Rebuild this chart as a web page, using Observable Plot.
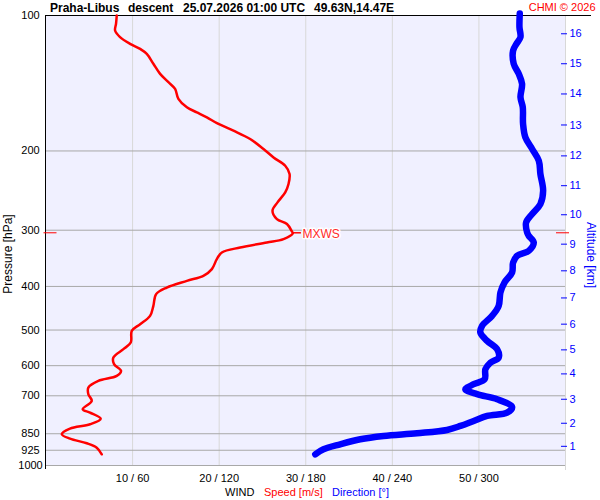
<!DOCTYPE html>
<html><head><meta charset="utf-8">
<script src="https://cdn.jsdelivr.net/npm/d3@7"></script>
<script src="https://cdn.jsdelivr.net/npm/@observablehq/plot@0.6"></script>
<style>body{margin:0;background:#fff}</style>
</head><body><div id="chart"></div>
<script>
// ---- data ----
const pressureTicks = [100, 200, 300, 400, 500, 600, 700, 850, 925, 1000];
const speedTicks = [10, 20, 30, 40, 50];
const altitudeKm = [1, 2, 3, 4, 5, 6, 7, 8, 9, 10, 11, 12, 13, 14, 15, 16];
const altitudePressure = [906.5, 805.6, 712.5, 625.8, 553.4, 485.2, 424.3, 369.3, 322.2, 277.2, 238.9, 205.1, 175.1, 149.4, 128.0, 109.8];

const speedPressure = [100, 104.3, 108.0, 111.7, 115.6, 118.6, 121.7, 128.0, 134.8, 140.7, 145.6, 153.2, 160.0, 164.1, 168.4, 174.2, 180.3, 188.1, 198.0, 206.7, 215.7, 225.0, 236.8, 247.2, 260.2, 271.5, 283.4, 290.7, 301.9, 305.0, 314.0, 319.5, 327.8, 336.3, 347.8, 366.1, 378.9, 388.7, 402.3, 416.1, 441.7, 465.0, 485.2, 502.1, 533.1, 551.4, 575.6, 595.4, 616.2, 632.2, 648.6, 671.2, 694.3, 718.6, 749.9, 763.0, 787.0, 809.8, 828.2, 852.3, 871.7, 892.5, 912.9, 944.3];
const speedValues = [8.17, 8.09, 7.98, 8.55, 9.71, 10.87, 11.64, 12.40, 13.18, 14.14, 14.91, 15.29, 16.27, 17.42, 18.58, 19.92, 21.65, 23.58, 25.12, 26.28, 27.63, 28.13, 28.01, 27.63, 26.74, 26.16, 26.67, 27.83, 28.40, 28.50, 27.43, 25.51, 22.43, 20.31, 19.73, 19.16, 18.18, 16.27, 13.95, 12.72, 12.40, 12.02, 10.87, 9.91, 9.79, 8.94, 7.78, 7.86, 8.67, 8.17, 6.05, 4.89, 4.89, 5.28, 4.24, 5.09, 6.32, 5.09, 2.77, 1.82, 2.77, 4.71, 5.86, 6.44];

const dirPressure = [99, 106.2, 111.7, 115.6, 119.6, 128.0, 134.8, 141.9, 151.9, 160.0, 174.2, 186.6, 198.0, 210.2, 225.0, 245.1, 262.5, 276.1, 288.4, 303.4, 308.6, 319.5, 333.4, 342.0, 353.9, 372.5, 392.1, 412.7, 441.7, 465.0, 489.4, 506.5, 528.5, 551.4, 575.6, 590.5, 610.9, 643.0, 659.8, 677.0, 694.3, 712.5, 741.3, 763.0, 776.1, 796.2, 816.8, 833.7, 848.0, 860.0, 874.6, 897.2, 920.4, 944.3];
const dirValues = [328.3, 328.1, 328.8, 326.0, 323.7, 324.1, 327.6, 329.9, 328.8, 330.4, 330.6, 332.2, 336.9, 341.5, 342.6, 344.5, 342.6, 336.9, 332.7, 333.4, 334.5, 338.0, 334.5, 326.5, 323.7, 323.0, 317.7, 314.9, 313.7, 309.1, 302.2, 301.0, 305.7, 312.6, 313.7, 308.0, 304.5, 304.0, 296.4, 290.6, 298.7, 312.6, 323.0, 319.5, 305.7, 296.4, 287.2, 277.9, 257.1, 233.9, 217.8, 203.9, 192.3, 186.6];

const mxwsPressure = 304;
const mxwsSpeed = 28.5;

// ---- build tables ----
const speedRows = speedPressure.map((p, i) => ({p, v: speedValues[i]}));
const dirRows = dirPressure.map((p, i) => ({p, v: dirValues[i]}));
const mxws = [{p: mxwsPressure, s: mxwsSpeed}];
const altMap = new Map(altitudePressure.map((p, i) => [p, String(altitudeKm[i])]));

const chart = Plot.plot({
  width: 600,
  height: 500,
  marginTop: 15,
  marginBottom: 35,
  marginLeft: 45.5,
  marginRight: 35,
  x: {domain: [0, 60], label: null},
  y: {type: "log", domain: [1000, 100], label: null},
  style: {fontFamily: "Liberation Sans, Arial, sans-serif", fontSize: "11px", background: "white", overflow: "visible"},
  marks: [
    Plot.frame({fill: "#f0f0ff", stroke: null}),
    Plot.ruleX(speedTicks, {stroke: "#d8d8d8"}),
    Plot.ruleX([60], {stroke: "#d8d8d8", insetBottom: -5}),
    Plot.ruleY(pressureTicks.filter(d => d !== 100), {stroke: "#a8a8a8"}),
    Plot.ruleY([100], {stroke: "black", insetRight: -26}),
    Plot.ruleX([0], {stroke: "black", dx: -0.5, insetBottom: -4}),
    Plot.line(dirRows, {x: d => d.v / 6, y: "p", stroke: "#0000ff", strokeWidth: 6.5, curve: "catmull-rom"}),
    Plot.line(speedRows, {x: "v", y: "p", stroke: "#ff0000", strokeWidth: 2.5, curve: "catmull-rom"}),
    Plot.ruleY(mxws, {y: "p", x1: "s", x2: d => d.s + 1, stroke: "#ff0000", strokeWidth: 1.5}),
    Plot.text(mxws, {x: d => d.s + 1, y: "p", text: () => "MXWS", textAnchor: "start", dx: 1, dy: 1, fill: "#ff2a2a", stroke: "white", strokeWidth: 3, paintOrder: "stroke", fontSize: 12}),
    Plot.axisY({anchor: "left", ticks: [mxwsPressure], tickSize: 13, dx: 11, tickFormat: () => "", color: "#ff0000", label: null}),
    Plot.axisY({anchor: "right", ticks: [mxwsPressure], tickSize: 13, dx: -10, tickFormat: () => "", color: "#ff0000", label: null}),
    Plot.axisY({anchor: "left", ticks: pressureTicks, tickSize: 0, tickPadding: 15.5, textAnchor: "middle", tickFormat: d => `${d}`, fontSize: 11, label: null}),
    Plot.axisY({anchor: "right", ticks: altitudePressure, tickSize: 6, dx: -5, tickPadding: 3, tickFormat: d => altMap.get(d), color: "#0000ff", fontSize: 11, label: null}),
    Plot.axisX({anchor: "bottom", ticks: speedTicks, tickSize: 0, tickPadding: 9, tickFormat: d => `${d} / ${d * 6}`, fontSize: 11, label: null})
  ]
});

document.getElementById("chart").appendChild(chart);
const svg = d3.select(chart);

// title
const title = svg.append("text").attr("y", 12).attr("text-anchor", "start").attr("font-size", 12).attr("font-weight", "bold").attr("fill", "black").style("white-space", "pre");
[["Praha-Libus   ", 50], ["descent   ", 128], ["25.07.2026 01:00 UTC   ", 183], ["49.63N,14.47E", 314]].forEach(([t, x]) => title.append("tspan").attr("x", x).text(t));

svg.append("text").attr("x", 595.5).attr("y", 11).attr("text-anchor", "end").attr("font-size", 11).attr("fill", "#ff0000").text("CHMI © 2026");

// axis titles
svg.append("text").attr("transform", "translate(12,254) rotate(-90)").attr("text-anchor", "middle").attr("font-size", 12).attr("fill", "black").text("Pressure [hPa]");
svg.append("text").attr("transform", "translate(587,255) rotate(90)").attr("text-anchor", "middle").attr("font-size", 12).attr("fill", "#0000ff").text("Altitude [km]");

// bottom legend
const leg = svg.append("text").attr("y", 495.5).attr("text-anchor", "start").attr("font-size", 11).style("white-space", "pre");
[["WIND ", 225, "black"], ["Speed [m/s] ", 264, "#ff0000"], ["Direction [°]", 332, "#0000ff"]].forEach(([t, x, c]) => leg.append("tspan").attr("x", x).attr("fill", c).text(t));
</script>
</body></html>
